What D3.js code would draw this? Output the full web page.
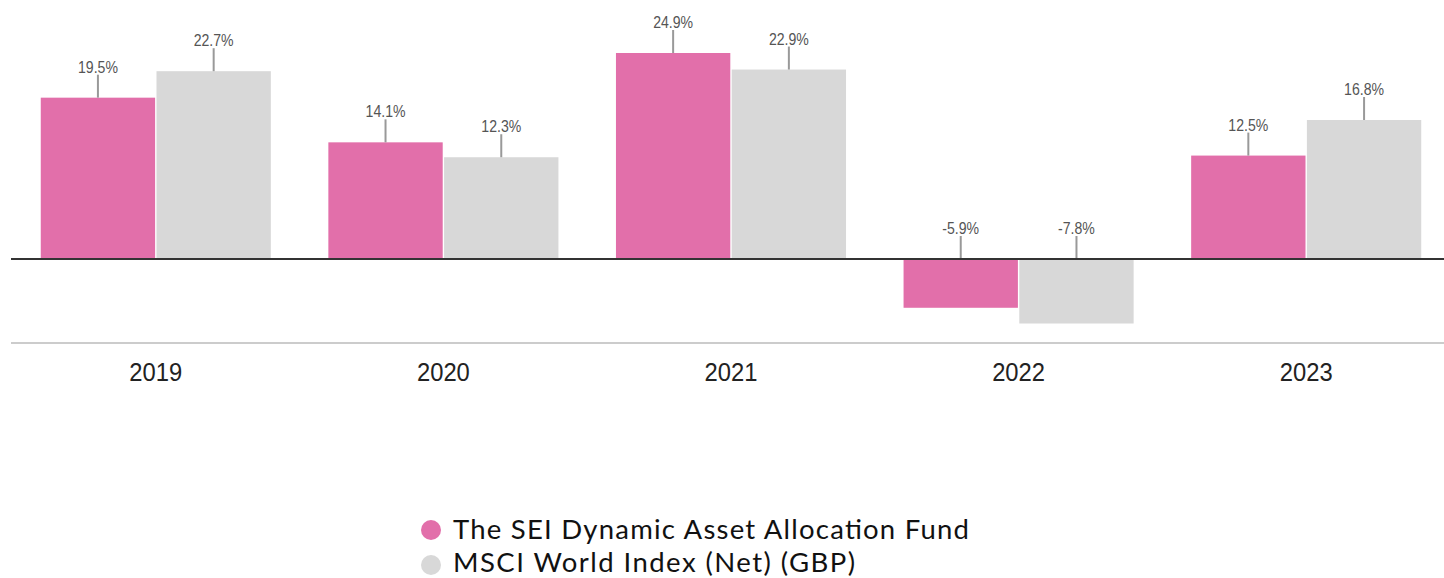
<!DOCTYPE html>
<html><head><meta charset="utf-8">
<script src="https://cdn.jsdelivr.net/npm/d3@7"></script>
<style>body{margin:0;background:#fff}svg{display:block}</style>
</head><body><svg id="c" width="1444" height="578"></svg>
<script>
const categories = ["2019","2020","2021","2022","2023"];
const seriesNames = ["The SEI Dynamic Asset Allocation Fund","MSCI World Index (Net) (GBP)"];
const fundValues = [19.5, 14.1, 24.9, -5.9, 12.5];
const indexValues = [22.7, 12.3, 22.9, -7.8, 16.8];
const colors = ["#e26faa","#d8d8d8"];

const svg = d3.select("#c");
const x = d3.scaleBand().domain(categories).range([12,1450]).paddingInner(0.2).paddingOuter(0.1);
const xi = d3.scaleBand().domain([0,1]).range([0,x.bandwidth()]).paddingInner(0.012);
const y = d3.scaleLinear().domain([-7.8,24.9]).range([323.5,53]);

const data = categories.map((c,i)=>({c, vals:[fundValues[i], indexValues[i]]}));

const g = svg.append("g");
data.forEach(d=>{
  d.vals.forEach((v,k)=>{
    const x0 = x(d.c)+xi(k);
    g.append("rect").attr("x",x0).attr("width",xi.bandwidth())
      .attr("y",y(Math.max(0,v))).attr("height",Math.abs(y(v)-y(0)))
      .attr("fill",colors[k]);
    const cx = x0 + xi.bandwidth()/2;
    const top = y(Math.max(0,v));
    g.append("line").attr("x1",cx).attr("x2",cx).attr("y1",top).attr("y2",top-23)
      .attr("stroke","#999").attr("stroke-width",2);
    g.append("text").attr("transform",`translate(${cx},${top-25}) scale(1,1.18)`)
      .attr("text-anchor","middle")
      .attr("font-family","Liberation Sans, Arial, sans-serif").attr("font-size",14.1)
      .attr("fill","#555").text(v.toFixed(1)+"%");
  });
});

svg.append("line").attr("x1",11).attr("x2",1444).attr("y1",y(0)).attr("y2",y(0))
  .attr("stroke","#333").attr("stroke-width",2);

const xAxis = d3.axisBottom(x).tickSize(0).tickPadding(0);
const ax = svg.append("g").attr("transform","translate(0,343)").call(xAxis);
ax.select(".domain").remove();
ax.append("line").attr("x1",11).attr("x2",1444).attr("stroke","#bbb").attr("stroke-width",1.5);
ax.selectAll(".tick text").attr("dy",null).attr("y",null)
  .attr("transform","translate(0,37.5) scale(1,1.1)")
  .attr("font-family","Liberation Sans, Arial, sans-serif").attr("font-size",23.8).attr("fill","#222");

const lg = svg.append("g");
const legendY = [530, 565];
const legendBase = [538.5, 571.5];
const legendWidth = [516, 402];
seriesNames.forEach((n,i)=>{
  lg.append("circle").attr("cx",431).attr("cy",legendY[i]).attr("r",10).attr("fill",colors[i]);
  lg.append("text").attr("x",453).attr("y",legendBase[i]).attr("font-family","Lato, sans-serif")
    .attr("font-size",27.5).attr("textLength",legendWidth[i]).attr("lengthAdjust","spacing")
    .attr("fill","#111").text(n);
});
</script></body></html>
